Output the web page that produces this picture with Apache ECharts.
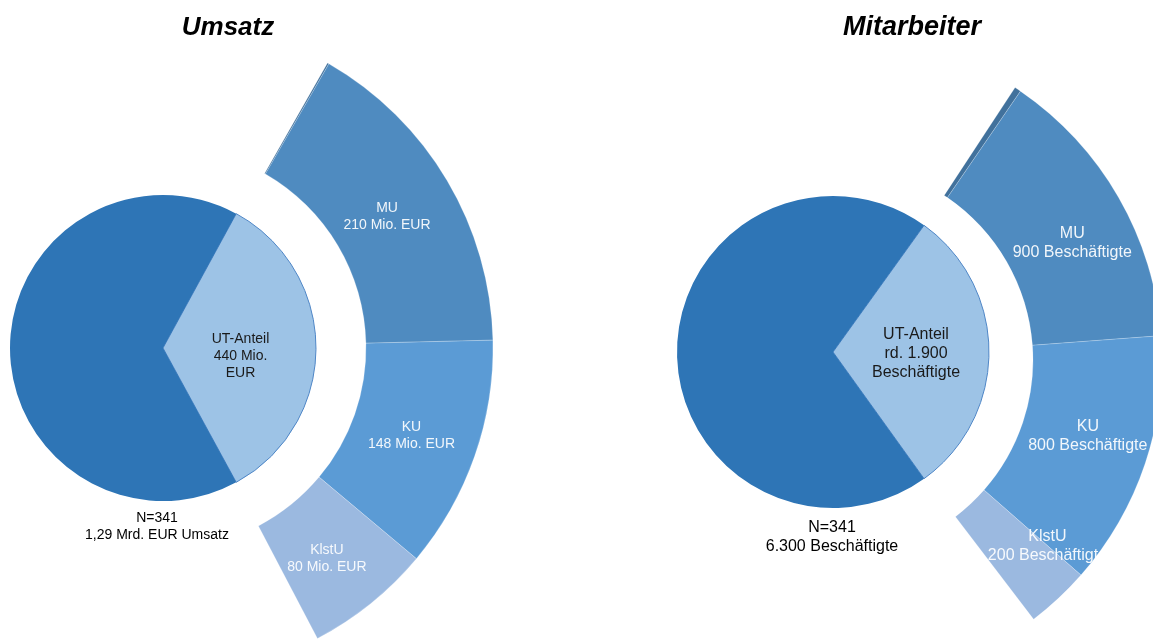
<!DOCTYPE html>
<html>
<head>
<meta charset="utf-8">
<script src="https://cdn.jsdelivr.net/npm/echarts@6/dist/echarts.min.js"></script>
<style>
  html, body { margin: 0; padding: 0; background: #fff; }
  #chart { width: 1153px; height: 639px; }
</style>
</head>
<body>
<div id="chart"></div>
<script>
// Umsatz (Mio. EUR)
const umsatzTotal = 1290
const umsatzUT = 440
const umsatzValues = [1, 210, 148, 80]
const umsatzValueLabels = ["", "210 Mio. EUR", "148 Mio. EUR", "80 Mio. EUR"]

// Mitarbeiter (Beschäftigte)
const mitarbeiterTotal = 6300
const mitarbeiterUT = 1900
const mitarbeiterValues = [20, 900, 800, 200]
const mitarbeiterValueLabels = ["", "900 Beschäftigte", "800 Beschäftigte", "200 Beschäftigte"]

const segmentNames = ["GU", "MU", "KU", "KlstU"]
const segmentColors = ["#41719C", "#4F8BC0", "#5B9BD5", "#9BB9E0"]

const FONT = '"Liberation Sans", Arial, sans-serif'

// small label nudges (px) so the labels sit where Excel put them
const umsatzRingNudge = [[0, 0], [-8, 5], [-6, -1], [-6, 2]]
const mitarbeiterRingNudge = [[0, 0], [7, 15], [1, -8], [31, -7]]

const myChart = echarts.init(document.getElementById("chart"))

function innerPie(center, r, total, ut, text, fontSize, nudge) {
  return {
    type: "pie",
    center: center,
    radius: [0, r],
    startAngle: (ut / total) * 180,
    clockwise: true,
    silent: true,
    labelLine: { show: false },
    emphasis: { disabled: true },
    labelLayout: function () {
      return { dx: nudge[0], dy: nudge[1] }
    },
    data: [
      {
        name: "UT",
        value: ut,
        itemStyle: { color: "#9DC3E6", borderColor: "#4F86C6", borderWidth: 1 },
        label: {
          show: true,
          position: "inside",
          formatter: text,
          color: "#1a1a1a",
          fontFamily: FONT,
          fontSize: fontSize,
          lineHeight: fontSize + 3,
          overflow: "none",
        },
      },
      {
        name: "Rest",
        value: total - ut,
        itemStyle: { color: "#2E75B6" },
        label: { show: false },
      },
    ],
  }
}

function outerRing(center, radius, total, ut, values, labels, tilt, fontSize, nudge) {
  const visible = values.reduce((a, b) => a + b, 0)
  const rest = total - ut
  const data = values.map((v, i) => ({
    name: segmentNames[i],
    value: v,
    itemStyle: {
      color: segmentColors[i],
      borderColor: "rgba(255,255,255,0.35)",
      borderWidth: 0.6,
    },
    label: {
      show: labels[i] !== "",
      position: "inside",
      formatter: segmentNames[i] + "\n" + labels[i],
      color: "rgba(255,255,255,0.92)",
      fontFamily: FONT,
      fontSize: fontSize,
      lineHeight: fontSize + 3,
      overflow: "none",
    },
  }))
  data.push({
    name: "",
    value: rest,
    itemStyle: { color: "transparent" },
    label: { show: false },
  })
  return {
    type: "pie",
    center: center,
    radius: radius,
    startAngle: (visible / (visible + rest)) * 180 + tilt,
    clockwise: true,
    silent: true,
    labelLine: { show: false },
    emphasis: { disabled: true },
    labelLayout: function (params) {
      const n = nudge[params.dataIndex] || [0, 0]
      return { dx: n[0], dy: n[1] }
    },
    data: data,
  }
}

function textItem(x, y, text, font, lineHeight) {
  return {
    type: "text",
    x: x,
    y: y,
    silent: true,
    style: {
      text: text,
      font: font,
      fill: "#000",
      lineHeight: lineHeight,
      textAlign: "center",
      align: "center",
      textVerticalAlign: "middle",
      verticalAlign: "middle",
    },
  }
}

const option = {
  animation: false,
  graphic: [
    textItem(228, 28, "Umsatz", "italic bold 26px " + FONT),
    textItem(912, 28, "Mitarbeiter", "italic bold 27px " + FONT),
    textItem(157, 527, "N=341\n1,29 Mrd. EUR Umsatz", "14px " + FONT, 17),
    textItem(832, 537, "N=341\n6.300 Beschäftigte", "16px " + FONT, 19),
  ],
  series: [
    innerPie([163, 348], 153, umsatzTotal, umsatzUT, "UT-Anteil\n440 Mio.\nEUR", 14, [-2, 8]),
    outerRing([165, 348], [201, 328], umsatzTotal, umsatzUT, umsatzValues, umsatzValueLabels, -1, 14, umsatzRingNudge),
    innerPie([833, 352], 156, mitarbeiterTotal, mitarbeiterUT, "UT-Anteil\nrd. 1.900\nBeschäftigte", 16, [2, 2]),
    outerRing([836, 360], [197, 326], mitarbeiterTotal, mitarbeiterUT, mitarbeiterValues, mitarbeiterValueLabels, 2, 16, mitarbeiterRingNudge),
  ],
}

option && myChart.setOption(option)
</script>
</body>
</html>
